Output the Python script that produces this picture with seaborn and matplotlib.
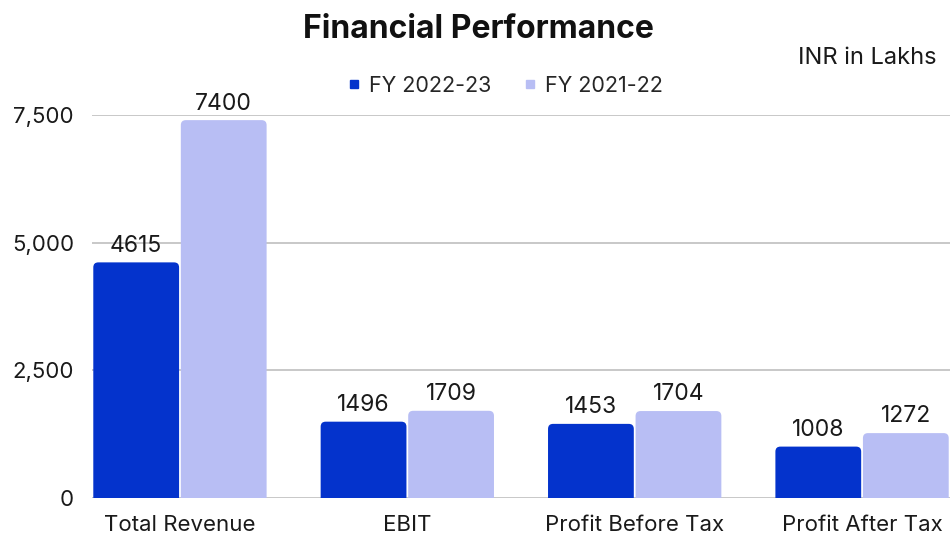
import matplotlib
matplotlib.use("Agg")
import matplotlib.pyplot as plt
import seaborn as sns
import pandas as pd
from matplotlib.patches import FancyBboxPatch
from matplotlib.lines import Line2D

categories = ["Total Revenue", "EBIT", "Profit Before Tax", "Profit After Tax"]
fy2223 = [4615, 1496, 1453, 1008]
fy2122 = [7400, 1709, 1704, 1272]
series = ["FY 2022-23", "FY 2021-22"]
colors = ["#0433CC", "#B8BEF4"]
yticks = [0, 2500, 5000, 7500]

sns.set_theme(style="white")
plt.rcParams['font.family'] = ['Inter', 'DejaVu Sans']

df = pd.DataFrame({
    "cat": categories * 2,
    "val": fy2223 + fy2122,
    "series": [series[0]] * 4 + [series[1]] * 4,
})

fig = plt.figure(figsize=(9.51, 5.35), dpi=100)
ax = fig.add_axes([0.0967, 0.069, 0.9023, 0.716])
sns.barplot(data=df, x="cat", y="val", hue="series", palette=colors,
            width=0.77, gap=0.02, ax=ax, legend=False, saturation=1)

ax.set_ylim(0, 7500)
ax.set_xlim(-0.387, 3.387)

# replace bars by rounded-top bars
px_per_x = 0.9023 * 951 / (3.387 + 0.387)
px_per_y = 0.716 * 535 / 7500
aspect = px_per_x / px_per_y
r_px = 5
bars = list(ax.patches)
for p in bars:
    x, y, w, h = p.get_x(), p.get_y(), p.get_width(), p.get_height()
    fc = p.get_facecolor()
    p.remove()
    ext = 300
    fb = FancyBboxPatch((x, y - ext), w, h + ext,
                        boxstyle=f"round,pad=0,rounding_size={r_px / px_per_x}",
                        mutation_aspect=aspect, facecolor=fc, edgecolor="none",
                        zorder=3)
    ax.add_patch(fb)
    ax.text(x + w / 2, y + h + 110, f"{int(round(h))}", ha="center", va="bottom",
            fontsize=16.5, color="#1a1a1a", zorder=4)

ax.set_yticks(yticks)
ax.set_yticklabels([f"{v:,}" for v in yticks])
ax.yaxis.grid(True, color="#bfbfbf", linewidth=1.2)
ax.set_axisbelow(True)
for s in ax.spines.values():
    s.set_visible(False)
ax.tick_params(axis="y", labelsize=16, length=0, pad=13, colors="#1a1a1a")
ax.tick_params(axis="x", labelsize=16, length=0, pad=12, colors="#1a1a1a")
ax.set_xlabel("")
ax.set_ylabel("")

fig.text(0.503, 0.945, "Financial Performance", ha="center", va="center",
         fontsize=23, fontweight="bold", color="#111111")
fig.text(0.985, 0.891, "INR in Lakhs", ha="right", va="center",
         fontsize=17, color="#1a1a1a")

handles = [Line2D([], [], marker="s", linestyle="none", markersize=6,
                  markerfacecolor=c, markeredgecolor=c) for c in colors]
fig.legend(handles, series, loc="center", bbox_to_anchor=(0.53, 0.840),
           ncol=2, frameon=False, fontsize=15.5, handletextpad=0.3,
           columnspacing=1.4, handlelength=0.8)

fig.savefig("out.png", dpi=100)
